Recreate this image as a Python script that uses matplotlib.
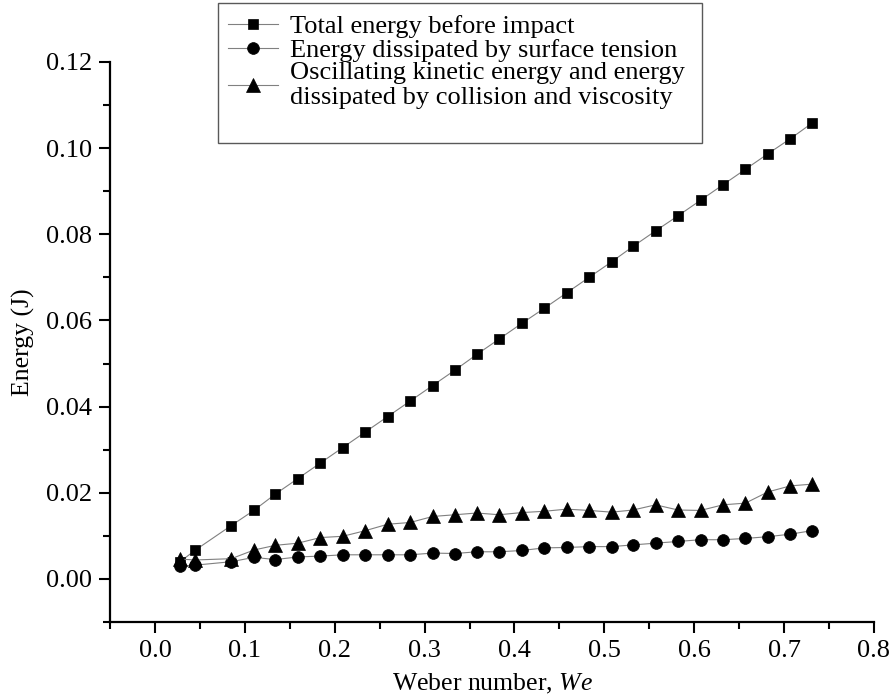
import matplotlib

matplotlib.use("Agg")
import matplotlib.pyplot as plt
from matplotlib.patches import Rectangle
from matplotlib.ticker import MultipleLocator

plt.rcParams["font.family"] = ["Liberation Serif", "DejaVu Serif"]
plt.rcParams["mathtext.fontset"] = "custom"
plt.rcParams["mathtext.it"] = "Liberation Serif:italic"
plt.rcParams["mathtext.rm"] = "Liberation Serif"

# Weber number of each test
weber = [0.028, 0.045, 0.085, 0.110, 0.134, 0.159, 0.184, 0.209, 0.234, 0.259,
         0.284, 0.309, 0.334, 0.358, 0.383, 0.408, 0.433, 0.458, 0.483, 0.508,
         0.532, 0.557, 0.582, 0.607, 0.632, 0.657, 0.682, 0.707, 0.731]

# energies (J)
total_energy = [0.0040, 0.0067, 0.0124, 0.0159, 0.0197, 0.0233, 0.0269, 0.0305,
                0.0341, 0.0377, 0.0413, 0.0449, 0.0485, 0.0521, 0.0557, 0.0593,
                0.0628, 0.0664, 0.0700, 0.0736, 0.0772, 0.0808, 0.0843, 0.0879,
                0.0915, 0.0951, 0.0987, 0.1022, 0.1058]
surface_tension = [0.0030, 0.0032, 0.0040, 0.0050, 0.0045, 0.0051, 0.0053, 0.0056,
                   0.0056, 0.0056, 0.0056, 0.0060, 0.0059, 0.0063, 0.0063, 0.0066,
                   0.0072, 0.0073, 0.0075, 0.0075, 0.0079, 0.0083, 0.0087, 0.0091,
                   0.0091, 0.0094, 0.0098, 0.0104, 0.0112]
oscillating = [0.0046, 0.0044, 0.0047, 0.0067, 0.0078, 0.0083, 0.0096, 0.0099,
               0.0112, 0.0127, 0.0131, 0.0145, 0.0149, 0.0153, 0.0149, 0.0154,
               0.0157, 0.0162, 0.0159, 0.0155, 0.0160, 0.0172, 0.0160, 0.0159,
               0.0172, 0.0176, 0.0202, 0.0216, 0.0220]

SERIES = [
    ("Total energy before impact", total_energy, "s", 7.5),
    ("Energy dissipated by surface tension", surface_tension, "o", 8.5),
    ("Oscillating kinetic energy and energy\ndissipated by collision and viscosity",
     oscillating, "^", 9.5),
]

W, H = 893, 697


def main() -> None:
    fig = plt.figure(figsize=(W / 100, H / 100), dpi=100)
    ax = fig.add_axes([110 / W, 75 / H, 764 / W, 560 / H])

    handles = []
    for label, values, marker, size in SERIES:
        (h,) = ax.plot(weber, values, color="0.5", lw=0.8, marker=marker, ms=size,
                       mfc="black", mec="black", mew=0.5, label=label)
        handles.append(h)

    ax.set_xlim(-0.05, 0.8)
    ax.set_ylim(-0.01, 0.12)
    ax.xaxis.set_minor_locator(MultipleLocator(0.05))
    ax.yaxis.set_minor_locator(MultipleLocator(0.01))
    ax.set_xticks([0.0, 0.1, 0.2, 0.3, 0.4, 0.5, 0.6, 0.7, 0.8])
    ax.set_xticklabels(["0.0", "0.1", "0.2", "0.3", "0.4", "0.5", "0.6", "0.7", "0.8"],
                       family="Liberation Serif")
    ax.set_yticks([0.00, 0.02, 0.04, 0.06, 0.08, 0.10, 0.12])
    ax.set_yticklabels(["0.00", "0.02", "0.04", "0.06", "0.08", "0.10", "0.12"],
                       family="Liberation Serif")

    for side in ("top", "right"):
        ax.spines[side].set_visible(False)
    for side in ("left", "bottom"):
        ax.spines[side].set_linewidth(1.6)
    ax.tick_params(which="major", direction="out", length=8, width=1.5,
                   labelsize=19, pad=5)
    ax.tick_params(which="minor", direction="out", length=5, width=1.5)

    ax.set_xlabel("Weber number, $We$", fontsize=18.5, labelpad=7)
    ax.set_ylabel("Energy (J)", fontsize=18.5, labelpad=8)

    # legend text and handles, frame drawn separately (box sits above the axes)
    fig.legend(handles=handles, loc="upper left",
               bbox_to_anchor=(228 / W, 1 - 15 / H), fontsize=19,
               frameon=False, handlelength=1.9, handletextpad=0.45,
               borderpad=0, labelspacing=0.0, borderaxespad=0)
    fig.add_artist(Rectangle((218 / W, 1 - 143 / H), 484 / W, 140 / H,
                             transform=fig.transFigure, fill=False,
                             edgecolor="0.35", lw=1.0))

    fig.savefig("out.png", dpi=100)
    plt.close(fig)


if __name__ == "__main__":
    main()
